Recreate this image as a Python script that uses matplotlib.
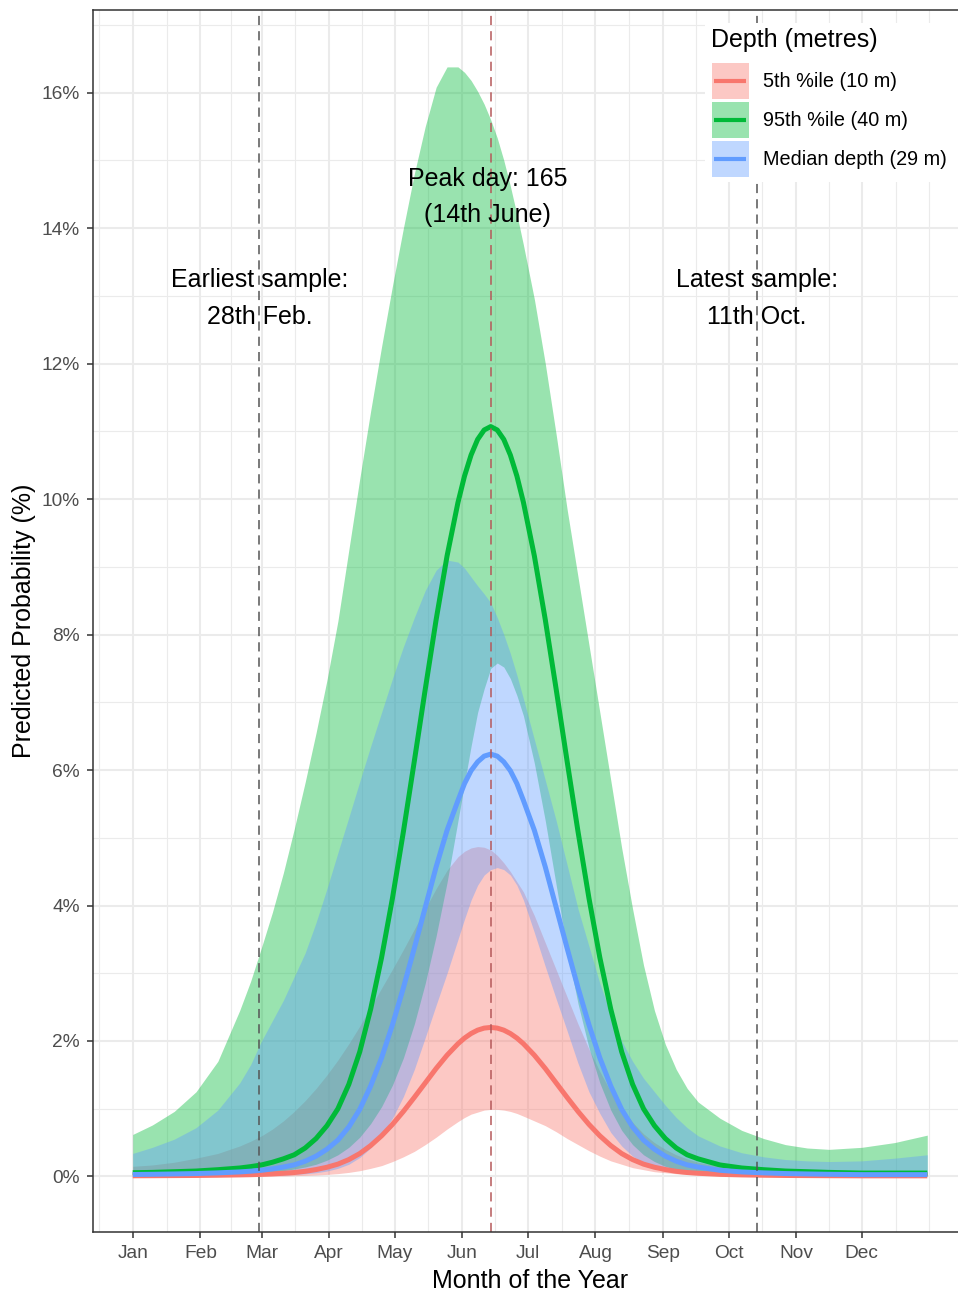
import matplotlib
matplotlib.use('agg')
import matplotlib.pyplot as plt
from matplotlib.patches import Rectangle
from matplotlib.lines import Line2D

plt.rcParams['font.family'] = ['Liberation Sans', 'DejaVu Sans']

# day of year at which the model predictions were read
days = [1, 10, 20, 30, 40, 50, 55, 60, 65, 70,
        75, 80, 85, 90, 95, 100, 105, 110, 115, 120,
        125, 130, 135, 140, 145, 150, 153, 156, 159, 162,
        165, 168, 171, 174, 177, 180, 185, 190, 195, 200,
        205, 210, 215, 220, 225, 230, 235, 240, 245, 250,
        255, 260, 270, 280, 290, 300, 310, 320, 335, 350,
        365]

# 5th %ile depth (10 m)
shallow_fit = [0.010, 0.011, 0.0127, 0.0145, 0.018, 0.023, 0.026, 0.031, 0.038, 0.047,
               0.058, 0.076, 0.102, 0.136, 0.182, 0.249, 0.338, 0.456, 0.60, 0.769,
               0.96, 1.167, 1.38, 1.594, 1.79, 1.959, 2.043, 2.11, 2.16, 2.19,
               2.20, 2.19, 2.16, 2.11, 2.043, 1.959, 1.79, 1.594, 1.38, 1.167,
               0.96, 0.769, 0.60, 0.456, 0.338, 0.249, 0.182, 0.136, 0.102, 0.076,
               0.058, 0.047, 0.031, 0.023, 0.018, 0.0145, 0.0127, 0.011, 0.009, 0.009,
               0.009]
shallow_lo = [0, 0, 0, 0, 0.001, 0.002, 0.003, 0.004, 0.006, 0.008,
              0.012, 0.016, 0.022, 0.03, 0.042, 0.06, 0.085, 0.12, 0.16, 0.22,
              0.29, 0.37, 0.47, 0.58, 0.7, 0.81, 0.87, 0.92, 0.95, 0.98,
              0.99, 0.99, 0.98, 0.96, 0.93, 0.89, 0.82, 0.75, 0.66, 0.56,
              0.47, 0.38, 0.3, 0.23, 0.18, 0.13, 0.1, 0.07, 0.055, 0.04,
              0.03, 0.022, 0.012, 0.007, 0.004, 0.002, 0.001, 0, 0, 0,
              0]
shallow_hi = [0.15, 0.17, 0.21, 0.27, 0.34, 0.45, 0.52, 0.6, 0.7, 0.82,
              0.96, 1.12, 1.3, 1.5, 1.72, 1.96, 2.22, 2.5, 2.78, 3.06,
              3.35, 3.65, 3.95, 4.25, 4.52, 4.72, 4.8, 4.85, 4.87, 4.86,
              4.82, 4.74, 4.63, 4.5, 4.35, 4.2, 3.85, 3.45, 3.05, 2.65,
              2.25, 1.88, 1.55, 1.25, 1.0, 0.8, 0.63, 0.5, 0.4, 0.32,
              0.26, 0.21, 0.15, 0.11, 0.09, 0.075, 0.065, 0.06, 0.06, 0.065,
              0.07]

# 95th %ile depth (40 m)
deep_fit = [0.055, 0.06, 0.07, 0.08, 0.1, 0.125, 0.145, 0.17, 0.21, 0.26,
            0.32, 0.42, 0.56, 0.75, 1.0, 1.36, 1.84, 2.47, 3.23, 4.11,
            5.09, 6.13, 7.19, 8.22, 9.16, 9.95, 10.34, 10.65, 10.88, 11.02,
            11.07, 11.02, 10.88, 10.65, 10.34, 9.95, 9.16, 8.22, 7.19, 6.13,
            5.09, 4.11, 3.23, 2.47, 1.84, 1.36, 1.0, 0.75, 0.56, 0.42,
            0.32, 0.26, 0.17, 0.125, 0.1, 0.08, 0.07, 0.06, 0.05, 0.05,
            0.05]
deep_lo = [0.01, 0.01, 0.012, 0.015, 0.02, 0.03, 0.04, 0.05, 0.065, 0.085,
           0.11, 0.14, 0.18, 0.24, 0.32, 0.43, 0.58, 0.78, 1.03, 1.35,
           1.75, 2.25, 2.85, 3.55, 4.34, 5.25, 5.8, 6.35, 6.85, 7.2,
           7.5, 7.58, 7.52, 7.35, 7.1, 6.8, 6.1, 5.25, 4.3, 3.35,
           2.55, 1.9, 1.38, 0.98, 0.68, 0.47, 0.32, 0.22, 0.15, 0.1,
           0.07, 0.05, 0.03, 0.02, 0.015, 0.01, 0.01, 0.01, 0.01, 0.01,
           0.01]
deep_hi = [0.62, 0.76, 0.96, 1.25, 1.7, 2.45, 2.88, 3.38, 3.9, 4.48,
           5.13, 5.82, 6.55, 7.33, 8.2, 9.25, 10.3, 11.3, 12.25, 13.15,
           14.0, 14.8, 15.5, 16.08, 16.38, 16.38, 16.3, 16.18, 16.02, 15.83,
           15.6, 15.33, 15.0, 14.62, 14.2, 13.75, 12.95, 12.0, 10.95, 9.85,
           8.85, 7.85, 6.85, 5.85, 4.85, 3.95, 3.12, 2.45, 1.95, 1.58,
           1.3, 1.1, 0.86, 0.68, 0.56, 0.47, 0.42, 0.4, 0.43, 0.5,
           0.61]

# median depth (29 m)
median_fit = [0.029, 0.032, 0.037, 0.043, 0.053, 0.067, 0.078, 0.091, 0.112, 0.139,
              0.171, 0.225, 0.30, 0.402, 0.537, 0.731, 0.99, 1.335, 1.75, 2.24,
              2.785, 3.37, 3.97, 4.57, 5.11, 5.55, 5.80, 5.99, 6.12, 6.205,
              6.235, 6.205, 6.12, 5.99, 5.80, 5.55, 5.11, 4.57, 3.97, 3.37,
              2.785, 2.24, 1.75, 1.335, 0.99, 0.731, 0.537, 0.402, 0.30, 0.225,
              0.171, 0.139, 0.091, 0.067, 0.053, 0.043, 0.037, 0.032, 0.027, 0.027,
              0.027]
median_lo = [0.005, 0.005, 0.006, 0.007, 0.008, 0.01, 0.011, 0.012, 0.015, 0.02,
             0.03, 0.04, 0.055, 0.08, 0.12, 0.18, 0.28, 0.42, 0.61, 0.86,
             1.18, 1.58, 2.05, 2.53, 3.0, 3.5, 3.8, 4.08, 4.3, 4.45,
             4.53, 4.56, 4.53, 4.45, 4.3, 4.08, 3.6, 3.1, 2.62, 2.15,
             1.67, 1.25, 0.93, 0.65, 0.45, 0.3, 0.2, 0.13, 0.09, 0.06,
             0.04, 0.03, 0.02, 0.012, 0.01, 0.008, 0.007, 0.006, 0.005, 0.005,
             0.005]
median_hi = [0.34, 0.43, 0.55, 0.72, 0.98, 1.38, 1.65, 2.0, 2.3, 2.6,
             2.95, 3.3, 3.75, 4.25, 4.78, 5.3, 5.83, 6.35, 6.85, 7.35,
             7.82, 8.25, 8.65, 8.95, 9.1, 9.07, 8.98, 8.85, 8.72, 8.6,
             8.47, 8.25, 8.0, 7.72, 7.4, 7.05, 6.45, 5.85, 5.25, 4.6,
             3.95, 3.4, 2.85, 2.4, 2.0, 1.7, 1.45, 1.25, 1.05, 0.87,
             0.72, 0.6, 0.45, 0.35, 0.29, 0.25, 0.23, 0.22, 0.23, 0.27,
             0.32]

groups = ['5th %ile (10 m)', '95th %ile (40 m)', 'Median depth (29 m)']
colours = ['#F8766D', '#00BA38', '#619CFF']

month_starts = [1, 32, 60, 91, 121, 152, 182, 213, 244, 274, 305, 335]
month_labels = ['Jan', 'Feb', 'Mar', 'Apr', 'May', 'Jun', 'Jul', 'Aug', 'Sep', 'Oct', 'Nov', 'Dec']

earliest_day = 59
peak_day = 165
latest_day = 287

fits = [shallow_fit, deep_fit, median_fit]
los = [shallow_lo, deep_lo, median_lo]
his = [shallow_hi, deep_hi, median_hi]

W, H = 958, 1293
fig = plt.figure(figsize=(W / 100, H / 100), dpi=100)
ax = fig.add_axes([93 / W, 61 / H, 874 / W, 1222 / H])


def fx(px):
    return px / W


def fy(py):
    return 1 - py / H


# theme_bw style panel
ax.set_xlim(-17.2, 383.2)
ax.set_ylim(-0.82, 17.22)
minor_x = [-14.5] + [(a + b) / 2 for a, b in zip(month_starts[:-1], month_starts[1:])] + [350.5, 366]
ax.set_xticks(month_starts)
ax.set_xticklabels(month_labels)
ax.set_xticks(minor_x, minor=True)
ax.set_yticks(range(0, 17, 2))
ax.set_yticklabels(['%d%%' % v for v in range(0, 17, 2)])
ax.set_yticks(range(1, 18, 2), minor=True)
ax.grid(which='major', color='#EBEBEB', lw=1.5)
ax.grid(which='minor', color='#EBEBEB', lw=0.8)
ax.set_axisbelow(True)
ax.tick_params(which='major', length=4, width=1.1, color='#333333',
               labelsize=13.8, labelcolor='#4D4D4D', pad=5.5)
ax.tick_params(which='minor', length=0)
for s in ax.spines.values():
    s.set_color('#333333')
    s.set_linewidth(1.1)

for lo, hi, c in zip(los, his, colours):
    ax.fill_between(days, lo, hi, color=c, alpha=0.4, lw=0)
for f, c in zip(fits, colours):
    ax.plot(days, f, color=c, lw=3.6, solid_capstyle='butt', solid_joinstyle='round')

ax.axvline(earliest_day, color='#555555', lw=1.1, ls=(0, (6, 4)))
ax.axvline(latest_day, color='#555555', lw=1.1, ls=(0, (6, 4)))
ax.axvline(peak_day, color='#B5585A', lw=1.1, ls=(0, (6, 4)))

ax.text(earliest_day, 12.96, 'Earliest sample:\n28th Feb.', ha='center', va='center',
        fontsize=18, linespacing=1.64)
ax.text(latest_day, 12.96, 'Latest sample:\n11th Oct.', ha='center', va='center',
        fontsize=18, linespacing=1.64)
ax.text(peak_day - 1.5, 14.46, 'Peak day: 165\n(14th June)', ha='center', va='center',
        fontsize=18, linespacing=1.64)

ax.set_xlabel('Month of the Year', fontsize=18, labelpad=5)
ax.set_ylabel('Predicted Probability (%)', fontsize=18, labelpad=4)

# legend box drawn on top of the panel
fig.add_artist(Rectangle((fx(705), fy(182)), fx(W) - fx(705), (182 - 23) / H,
                         transform=fig.transFigure, facecolor='white', edgecolor='none', zorder=5))
fig.text(fx(711), fy(40), 'Depth (metres)', fontsize=18, ha='left', va='center', zorder=6)
for i, (lab, c) in enumerate(zip(groups, colours)):
    top = 62.7 + 39 * i
    fig.add_artist(Rectangle((fx(712), fy(top + 36.5)), 37 / W, 36.5 / H,
                             transform=fig.transFigure, facecolor=c, alpha=0.4,
                             edgecolor='none', zorder=6))
    fig.add_artist(Line2D([fx(714), fx(746)], [fy(top + 18.2)] * 2, color=c, lw=3,
                          solid_capstyle='butt', transform=fig.transFigure, zorder=7))
    fig.text(fx(763), fy(top + 18.5), lab, fontsize=14.3, ha='left', va='center', zorder=7)

fig.savefig('out.png', dpi=100)
